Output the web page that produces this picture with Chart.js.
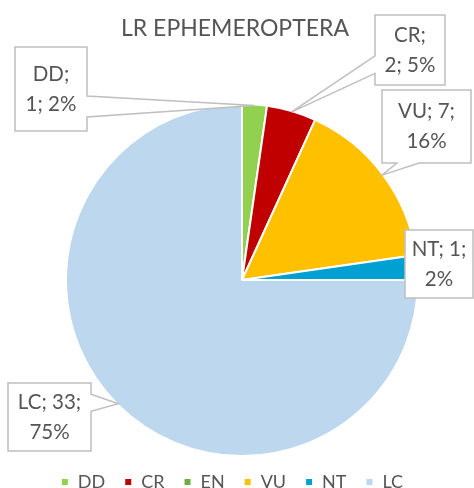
<!DOCTYPE html>
<html>
<head>
<meta charset="utf-8">
<title>LR EPHEMEROPTERA</title>
<script src="https://cdn.jsdelivr.net/npm/chart.js@4.4.0/dist/chart.umd.min.js"></script>
<style>
  html, body { margin: 0; padding: 0; background: #fff; }
  #wrap { width: 474px; height: 488px; }
</style>
</head>
<body>
<div id="wrap"><canvas id="pie" width="474" height="488"></canvas></div>
<script>
const chartTitle = 'LR EPHEMEROPTERA';
const categories = ['DD', 'CR', 'EN', 'VU', 'NT', 'LC'];
const counts = [1, 2, 0, 7, 1, 33];
const sliceColors = ['#92D050', '#C00000', '#70AD47', '#FFC000', '#00A0D2', '#BDD7EE'];

const fontFamily = 'Lato, "Open Sans", sans-serif';
const textColor = '#555555';

// where each callout box sits, and how many words go on its first line
const calloutBoxes = {
  DD: { x: 15, y: 47, w: 72, h: 84, split: 1 },
  CR: { x: 375, y: 15, w: 70, h: 70, split: 1 },
  VU: { x: 382, y: 90, w: 89, h: 73, split: 2 },
  NT: { x: 405, y: 230, w: 68, h: 68, split: 2 },
  LC: { x: 8, y: 383, w: 83, h: 68, split: 2 }
};

// rectangle with an Excel style wedge pointing at tip
function calloutPath(ctx, b, tip) {
  const x0 = b.x, y0 = b.y, x1 = b.x + b.w, y1 = b.y + b.h;
  ctx.beginPath();
  const inside = tip.x >= x0 && tip.x <= x1 && tip.y >= y0 && tip.y <= y1;
  if (inside) {
    ctx.rect(x0, y0, b.w, b.h);
    return;
  }
  const cx = b.x + b.w / 2, cy = b.y + b.h / 2;
  const dx = (tip.x - cx) / b.w, dy = (tip.y - cy) / b.h;
  let edge;
  if (Math.abs(dx) > Math.abs(dy)) edge = dx < 0 ? 'left' : 'right';
  else edge = dy < 0 ? 'top' : 'bottom';
  const fx = tip.x < cx ? [2 / 12, 5 / 12] : [7 / 12, 10 / 12];
  const fy = tip.y < cy ? [2 / 12, 5 / 12] : [7 / 12, 10 / 12];

  ctx.moveTo(x0, y0);
  if (edge === 'top') {
    ctx.lineTo(x0 + b.w * fx[0], y0);
    ctx.lineTo(tip.x, tip.y);
    ctx.lineTo(x0 + b.w * fx[1], y0);
  }
  ctx.lineTo(x1, y0);
  if (edge === 'right') {
    ctx.lineTo(x1, y0 + b.h * fy[0]);
    ctx.lineTo(tip.x, tip.y);
    ctx.lineTo(x1, y0 + b.h * fy[1]);
  }
  ctx.lineTo(x1, y1);
  if (edge === 'bottom') {
    ctx.lineTo(x0 + b.w * fx[1], y1);
    ctx.lineTo(tip.x, tip.y);
    ctx.lineTo(x0 + b.w * fx[0], y1);
  }
  ctx.lineTo(x0, y1);
  if (edge === 'left') {
    ctx.lineTo(x0, y0 + b.h * fy[1]);
    ctx.lineTo(tip.x, tip.y);
    ctx.lineTo(x0, y0 + b.h * fy[0]);
  }
  ctx.closePath();
}

const calloutPlugin = {
  id: 'callouts',
  afterLayout(chart) {
    // legend sits a little left of the pie centre in the original
    chart.legend.left -= 10;
    chart.legend.right -= 10;
  },
  afterDraw(chart) {
    const ctx = chart.ctx;
    const meta = chart.getDatasetMeta(0);
    const values = chart.data.datasets[0].data;
    const total = values.reduce((a, b) => a + b, 0);

    ctx.save();
    // title
    ctx.fillStyle = textColor;
    ctx.font = '23px ' + fontFamily;
    ctx.textAlign = 'center';
    ctx.textBaseline = 'middle';
    ctx.fillText(chartTitle, 235, 29);

    meta.data.forEach((arc, i) => {
      const name = chart.data.labels[i];
      const box = calloutBoxes[name];
      if (!box || !values[i]) return;
      const p = arc.getProps(['x', 'y', 'startAngle', 'endAngle', 'outerRadius'], true);
      const mid = (p.startAngle + p.endAngle) / 2;
      const tip = { x: p.x + Math.cos(mid) * (p.outerRadius - 1), y: p.y + Math.sin(mid) * (p.outerRadius - 1) };

      calloutPath(ctx, box, tip);
      ctx.fillStyle = '#fff';
      ctx.fill();
      ctx.strokeStyle = '#BFBFBF';
      ctx.lineWidth = 1.5;
      ctx.stroke();

      const pct = Math.round(values[i] / total * 100);
      const words = [name + ';', values[i] + ';', pct + '%'];
      const lines = [words.slice(0, box.split).join(' '), words.slice(box.split).join(' ')];
      ctx.fillStyle = textColor;
      ctx.font = '20.5px ' + fontFamily;
      const lh = 30;
      const cx = box.x + box.w / 2, cy = box.y + box.h / 2;
      lines.forEach((t, k) => {
        ctx.fillText(t, cx, cy + (k - (lines.length - 1) / 2) * lh);
      });
    });
    ctx.restore();
  }
};

new Chart(document.getElementById('pie'), {
  type: 'pie',
  data: {
    labels: categories,
    datasets: [{
      data: counts,
      backgroundColor: sliceColors,
      borderColor: '#ffffff',
      borderWidth: 2,
      radius: 176,
      clip: false
    }]
  },
  options: {
    responsive: false,
    animation: false,
    layout: { padding: { left: 10, right: 0, top: 106, bottom: -13 } },
    plugins: {
      title: { display: false },
      tooltip: { enabled: false },
      legend: {
        position: 'bottom',
        labels: {
          boxWidth: 8,
          boxHeight: 8,
          padding: 19,
          color: textColor,
          font: { family: fontFamily, size: 18 }
        }
      }
    }
  },
  plugins: [calloutPlugin]
});
</script>
</body>
</html>
